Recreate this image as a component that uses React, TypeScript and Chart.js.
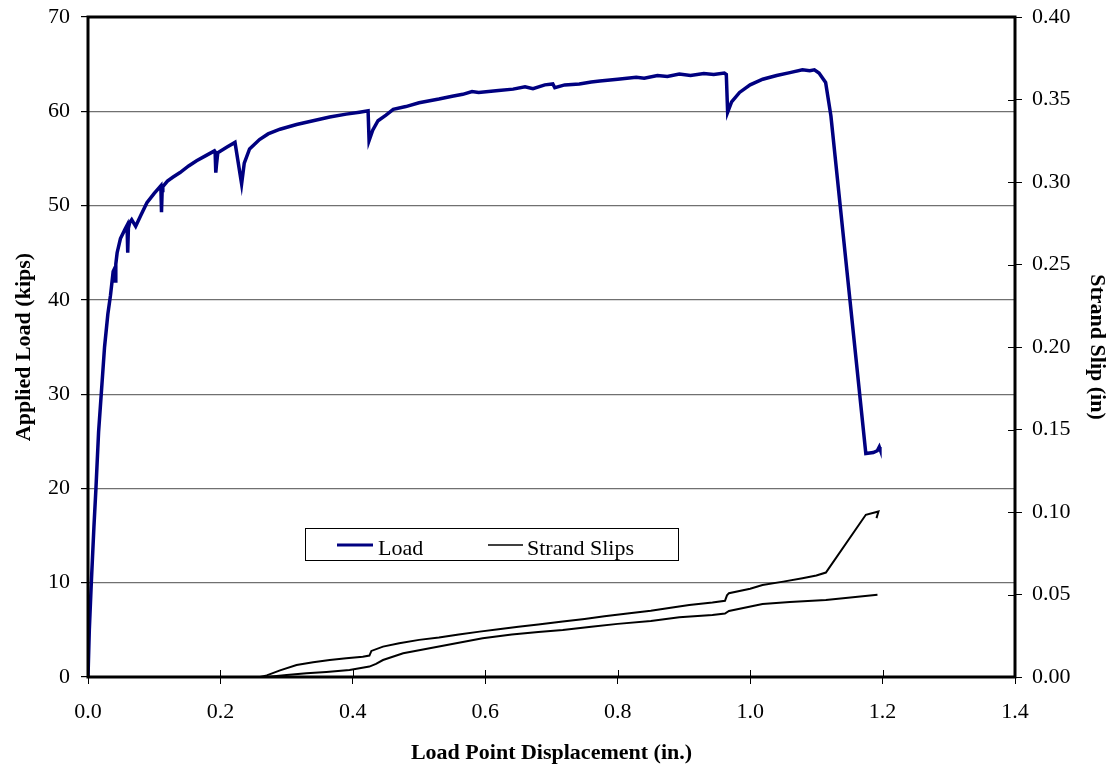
import React, { useEffect, useRef } from "react";
import { Chart, registerables } from "chart.js";

Chart.register(...registerables);

// Load vs load-point displacement
const loadDisp = [
  0, 0.002, 0.005, 0.009, 0.012, 0.016, 0.02, 0.025, 0.03, 0.034, 0.038, 0.040, 0.041, 0.042,
  0.044, 0.049, 0.056, 0.059, 0.060, 0.061, 0.063, 0.066, 0.072, 0.08, 0.089, 0.1, 0.110, 0.111, 0.112,
  0.113, 0.12, 0.128, 0.139, 0.152, 0.164, 0.178, 0.191, 0.192, 0.193, 0.194, 0.196, 0.21, 0.222,
  0.232, 0.236, 0.244, 0.259, 0.272, 0.29, 0.315, 0.34, 0.365, 0.39, 0.41, 0.423, 0.4245, 0.43,
  0.438, 0.45, 0.461, 0.48, 0.5, 0.53, 0.55, 0.566, 0.58, 0.59, 0.62, 0.642, 0.66, 0.672, 0.69,
  0.702, 0.705, 0.72, 0.742, 0.76, 0.773, 0.8, 0.828, 0.84, 0.86, 0.875, 0.893, 0.91, 0.93, 0.945,
  0.961, 0.964, 0.966, 0.972, 0.984, 1.0, 1.019, 1.04, 1.06, 1.079, 1.09, 1.097, 1.104, 1.114,
  1.122, 1.1747, 1.186, 1.192, 1.195, 1.196,
];
const loadKips = [
  0, 5, 10, 16, 20, 26, 30, 35, 38.5, 40.5, 43, 43.3, 42, 43.8,
  45, 46.5, 47.5, 47.9, 45, 47.6, 48.2, 48.5, 47.8, 49, 50.3, 51.3, 52.1, 49.3, 51.6,
  52.0, 52.6, 53, 53.5, 54.2, 54.75, 55.3, 55.8, 55.7, 53.5, 54.3, 55.6, 56.2, 56.7,
  52.3, 54.5, 56, 57, 57.6, 58.1, 58.6, 59.0, 59.4, 59.7, 59.9, 60.05, 56.9, 58,
  59.0, 59.6, 60.2, 60.5, 60.9, 61.3, 61.6, 61.8, 62.1, 62.0, 62.2, 62.35, 62.6, 62.4, 62.8,
  62.9, 62.5, 62.8, 62.9, 63.1, 63.2, 63.4, 63.6, 63.5, 63.8, 63.7, 63.95, 63.8, 64.0, 63.9,
  64.05, 63.9, 59.9, 61.0, 62.0, 62.8, 63.4, 63.8, 64.1, 64.4, 64.3, 64.4, 64.05, 63.05,
  59.5, 23.7, 23.8, 24.0, 24.4, 24.2,
];

// Strand slips (two strands) vs displacement
const slipADisp = [
  0, 0.26, 0.27, 0.29, 0.315, 0.34, 0.365, 0.39, 0.415, 0.425, 0.428, 0.4455, 0.47, 0.5, 0.53,
  0.56, 0.5914, 0.62, 0.65, 0.68, 0.717, 0.75, 0.78, 0.8177, 0.85, 0.88, 0.908, 0.943, 0.962,
  0.965, 0.968, 1.0, 1.0187, 1.05, 1.079, 1.1, 1.1144, 1.1747, 1.1938, 1.1908,
];
const slipAIn = [
  0, 0, 0.001, 0.004, 0.0073, 0.009, 0.0103, 0.0113, 0.0123, 0.013, 0.0158, 0.0184, 0.0205, 0.0225, 0.024,
  0.0258, 0.0275, 0.029, 0.0305, 0.0318, 0.0336, 0.0352, 0.0368, 0.0387, 0.0402, 0.042, 0.0437, 0.0451, 0.0462,
  0.0495, 0.0508, 0.0535, 0.0558, 0.0578, 0.0599, 0.0615, 0.0633, 0.0983, 0.1003, 0.0963,
];
const slipBDisp = [
  0, 0.27, 0.3, 0.33, 0.36, 0.395, 0.425, 0.435, 0.4455, 0.476, 0.51, 0.55, 0.596, 0.64, 0.68,
  0.717, 0.76, 0.8, 0.85, 0.893, 0.943, 0.962, 0.968, 1.0187, 1.06, 1.1144, 1.1923,
];
const slipBIn = [
  0, 0, 0.0012, 0.0022, 0.003, 0.0042, 0.0063, 0.008, 0.0103, 0.0144, 0.017, 0.02, 0.0235, 0.0258, 0.0272,
  0.0285, 0.0305, 0.0322, 0.034, 0.0362, 0.0376, 0.0385, 0.04, 0.0443, 0.0455, 0.0467, 0.0498,
];

const xTicksMax = 1.4;
const loadMax = 70;
const slipMax = 0.4;
const legendLabels = ["Load", "Strand Slips"];

const FONT = "'Liberation Serif', 'Times New Roman', serif";

const toPoints = (xs: number[], ys: number[]) => xs.map((x, i) => ({ x, y: ys[i] }));

const framePlugin = {
  id: "frame",
  afterDatasetsDraw(chart: any) {
    const { ctx, chartArea: a, scales } = chart;
    ctx.save();
    // inner tick halves
    ctx.strokeStyle = "#000";
    ctx.lineWidth = 1;
    scales.x.ticks.forEach((t: any) => {
      const px = Math.round(scales.x.getPixelForValue(t.value)) + 0.5;
      ctx.beginPath();
      ctx.moveTo(px, a.bottom - 7);
      ctx.lineTo(px, a.bottom);
      ctx.stroke();
    });
    scales.y2.ticks.forEach((t: any) => {
      const py = Math.round(scales.y2.getPixelForValue(t.value)) + 0.5;
      ctx.beginPath();
      ctx.moveTo(a.right - 7, py);
      ctx.lineTo(a.right, py);
      ctx.stroke();
    });
    // frame
    ctx.lineWidth = 3;
    ctx.strokeRect(a.left, a.top, a.right - a.left, a.bottom - a.top);
    // legend
    const ds = chart.data.datasets;
    ctx.fillStyle = "#fff";
    ctx.fillRect(305.5, 528.5, 373, 32);
    ctx.lineWidth = 1;
    ctx.strokeStyle = "#000";
    ctx.strokeRect(305.5, 528.5, 373, 32);
    ctx.font = `22px ${FONT}`;
    ctx.textBaseline = "alphabetic";
    ctx.fillStyle = "#000";
    ctx.strokeStyle = ds[0].borderColor;
    ctx.lineWidth = 3;
    ctx.beginPath();
    ctx.moveTo(337, 545);
    ctx.lineTo(373, 545);
    ctx.stroke();
    ctx.fillText(legendLabels[0], 378, 555);
    ctx.strokeStyle = ds[1].borderColor;
    ctx.lineWidth = 1.3;
    ctx.beginPath();
    ctx.moveTo(488, 545);
    ctx.lineTo(523, 545);
    ctx.stroke();
    ctx.fillText(legendLabels[1], 527, 555);
    ctx.restore();
  },
};

export default function App() {
  const ref = useRef<HTMLCanvasElement>(null);
  useEffect(() => {
    if (!ref.current) return;
    const chart = new Chart(ref.current, {
      type: "line",
      data: {
        datasets: [
          {
            label: legendLabels[0],
            data: toPoints(loadDisp, loadKips),
            borderColor: "#000080",
            borderWidth: 3.5,
            pointRadius: 0,
            yAxisID: "y",
            order: 1,
          },
          {
            label: legendLabels[1],
            data: toPoints(slipADisp, slipAIn),
            borderColor: "#000",
            borderWidth: 2,
            pointRadius: 0,
            yAxisID: "y2",
            order: 2,
          },
          {
            label: legendLabels[1] + " B",
            data: toPoints(slipBDisp, slipBIn),
            borderColor: "#000",
            borderWidth: 2,
            pointRadius: 0,
            yAxisID: "y2",
            order: 2,
          },
        ],
      },
      options: {
        responsive: false,
        animation: false,
        parsing: true,
        layout: { padding: { top: 17, left: 0, right: 0, bottom: 0 } },
        plugins: {
          legend: { display: false },
          tooltip: { enabled: false },
        },
        scales: {
          x: {
            type: "linear",
            min: 0,
            max: xTicksMax,
            ticks: {
              stepSize: 0.2,
              callback: (v: any) => Number(v).toFixed(1),
              font: { family: FONT, size: 22 },
              color: "#000",
              padding: 15,
              maxRotation: 0,
            },
            grid: { drawOnChartArea: false, tickLength: 7, tickColor: "#000" },
            border: { display: false },
            title: {
              display: true,
              text: "Load Point Displacement (in.)",
              font: { family: FONT, size: 22, weight: "bold" },
              color: "#000",
              padding: { top: 0, bottom: -3 },
            },
            afterFit: (s: any) => {
              s.height = 87;
              s.paddingLeft = 0;
              s.paddingRight = 0;
            },
          },
          y: {
            type: "linear",
            position: "left",
            min: 0,
            max: loadMax,
            ticks: {
              stepSize: 10,
              font: { family: FONT, size: 22 },
              color: "#000",
              padding: 11,
            },
            grid: { color: "#707070", lineWidth: 1.2, tickLength: 7, tickColor: "#000" },
            border: { display: false },
            title: {
              display: true,
              text: "Applied Load (kips)",
              font: { family: FONT, size: 22, weight: "bold" },
              color: "#000",
              padding: { top: 11, bottom: 0 },
            },
            afterFit: (s: any) => {
              s.width = 88;
              s.paddingTop = 0;
              s.paddingBottom = 0;
            },
          },
          y2: {
            type: "linear",
            position: "right",
            min: 0,
            max: slipMax,
            ticks: {
              stepSize: 0.05,
              callback: (v: any) => Number(v).toFixed(2),
              font: { family: FONT, size: 22 },
              color: "#000",
              padding: 10,
            },
            grid: { drawOnChartArea: false, tickLength: 7, tickColor: "#000" },
            border: { display: false },
            title: {
              display: true,
              text: "Strand Slip (in)",
              font: { family: FONT, size: 22, weight: "bold" },
              color: "#000",
              padding: { top: 2, bottom: 0 },
            },
            afterFit: (s: any) => {
              s.width = 97;
              s.paddingTop = 0;
              s.paddingBottom = 0;
            },
          },
        },
      },
      plugins: [framePlugin],
    });
    return () => chart.destroy();
  }, []);
  return (
    <div style={{ position: "absolute", left: 0, top: 0, width: 1112, height: 764, background: "#fff" }}>
      <canvas ref={ref} width={1112} height={764} style={{ width: 1112, height: 764, display: "block" }} />
    </div>
  );
}
